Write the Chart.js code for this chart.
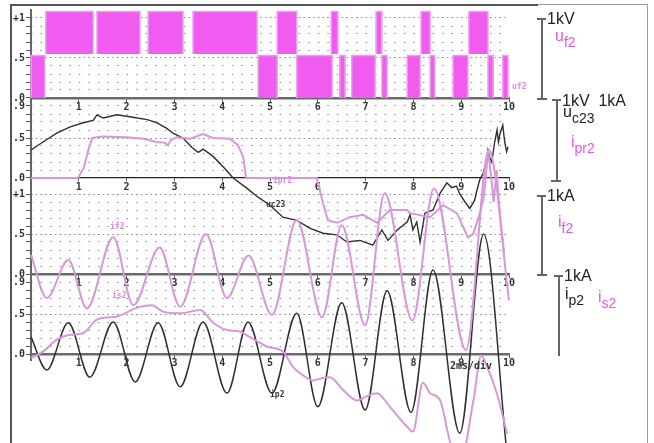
<!DOCTYPE html>
<html>
<head>
<meta charset="utf-8">
<script src="https://cdn.jsdelivr.net/npm/chart.js@4.4.1/dist/chart.umd.min.js"></script>
<style>
  body { margin:0; background:#fff; }
  #wrap { position:relative; width:654px; height:443px; overflow:hidden; background:#fff; }
  canvas { position:absolute; left:0; top:0; }
  .ln { position:absolute; background:#666; }
  .t { position:absolute; font-family:"Liberation Sans", Arial, sans-serif; font-size:16px; line-height:16px; color:#222; white-space:nowrap; }
  .t sub { font-size:14px; vertical-align:-6px; line-height:0; }
  .m { color:#e257e2; }
  .s { position:absolute; font-family:"DejaVu Sans Mono", monospace; font-weight:bold; font-size:8px; line-height:8px; white-space:nowrap; }
</style>
</head>
<body>
<div id="wrap">
  <canvas id="scope" width="654" height="443"></canvas>

  <!-- frame -->
  <div class="ln" style="left:10px;top:4px;width:2px;height:440px;background:#555"></div>
  <div class="ln" style="left:10px;top:4px;width:528px;height:2px;background:#555"></div>
  <div class="ln" style="left:538px;top:4px;width:110px;height:1px;background:#999"></div>
  <div class="ln" style="left:647px;top:4px;width:1px;height:440px;background:#999"></div>

  <!-- scale brackets on the right -->
  <div class="ln" style="left:541px;top:18px;width:1.5px;height:81px"></div>
  <div class="ln" style="left:537px;top:18px;width:9px;height:1.5px"></div>
  <div class="ln" style="left:537px;top:98px;width:10px;height:1.5px"></div>

  <div class="ln" style="left:556px;top:99px;width:1.5px;height:81px"></div>
  <div class="ln" style="left:552px;top:99px;width:9px;height:1.5px"></div>
  <div class="ln" style="left:551px;top:180px;width:10px;height:1.5px"></div>

  <div class="ln" style="left:541px;top:195px;width:1.5px;height:80px"></div>
  <div class="ln" style="left:537px;top:195px;width:9px;height:1.5px"></div>
  <div class="ln" style="left:537px;top:274px;width:10px;height:1.5px"></div>

  <div class="ln" style="left:558px;top:275px;width:1.5px;height:81px"></div>
  <div class="ln" style="left:554px;top:275px;width:9px;height:1.5px"></div>

  <div class="t" style="left:547px;top:11px">1kV</div>
  <div class="t m" style="left:555px;top:28px">u<sub>f2</sub></div>
  <div class="t" style="left:562px;top:93px">1kV&nbsp; 1kA</div>
  <div class="t" style="left:563px;top:104px">u<sub>c23</sub></div>
  <div class="t m" style="left:571px;top:134px">i<sub>pr2</sub></div>
  <div class="t" style="left:547px;top:188px">1kA</div>
  <div class="t m" style="left:558px;top:214px">i<sub>f2</sub></div>
  <div class="t" style="left:564px;top:268px">1kA</div>
  <div class="t" style="left:565px;top:286px">i<sub>p2</sub></div>
  <div class="t m" style="left:598px;top:289px">i<sub>s2</sub></div>

  <!-- trace labels inside the screen -->
  <div class="s" style="left:512px;top:83px;color:#d98ad9">uf2</div>
  <div class="s" style="left:273px;top:177px;color:#d98ad9">ipr2</div>
  <div class="s" style="left:266px;top:201px;color:#333">uc23</div>
  <div class="s" style="left:110px;top:223px;color:#d98ad9">if2</div>
  <div class="s" style="left:112px;top:292px;color:#d98ad9">is2</div>
  <div class="s" style="left:270px;top:391px;color:#333">ip2</div>
  <div class="s" style="left:450px;top:362px;color:#333;font-size:10px">2ms/div</div>
</div>

<script>
// time in divisions (2 ms/div), values in screen units of each channel (1 unit = 1 kV or 1 kA)

// u_f2 : switching blocks
const ufLoStart = [0, 4.75, 5.56, 6.46, 6.71, 7.34, 7.87, 8.35, 8.83, 9.56, 9.87];
const ufLoEnd   = [0.29, 5.15, 6.30, 6.57, 7.20, 7.45, 8.14, 8.45, 9.14, 9.67, 9.98];
const ufLoLevel = [0, 0.53];
const ufHiStart = [0.31, 1.38, 2.45, 3.39, 5.15, 6.28, 7.22, 8.16, 9.16];
const ufHiEnd   = [1.30, 2.28, 3.18, 4.73, 5.56, 6.42, 7.34, 8.35, 9.56];
const ufHiLevel = [0.55, 1.08];

// u_c23
const ucT = [0, 0.25, 0.54, 0.82, 1.09, 1.3, 1.38, 1.51, 1.8, 2.13, 2.43, 2.64, 2.84, 2.97, 3.18, 3.37, 3.5, 3.6, 3.81, 4.02, 4.23, 4.52, 4.75, 5.0, 5.27, 5.56, 5.84, 6.11, 6.4, 6.61, 6.88, 7.15, 7.34, 7.47, 7.66, 7.87, 7.93, 7.99, 8.07, 8.14, 8.24, 8.41, 8.56, 8.7, 8.8, 8.9, 8.97, 9.08, 9.18, 9.28, 9.33, 9.39, 9.46, 9.52, 9.56, 9.6, 9.64, 9.7, 9.75, 9.78, 9.81, 9.87, 9.91, 9.95, 9.98];
const ucV = [0.35, 0.45, 0.56, 0.64, 0.69, 0.72, 0.79, 0.75, 0.79, 0.76, 0.73, 0.69, 0.62, 0.56, 0.50, 0.38, 0.32, 0.36, 0.27, 0.14, 0.0, -0.13, -0.24, -0.34, -0.49, -0.53, -0.63, -0.69, -0.71, -0.80, -0.78, -0.84, -0.65, -0.78, -0.65, -0.55, -0.46, -0.65, -0.55, -0.80, -0.44, -0.40, -0.19, -0.06, -0.12, -0.10, -0.20, -0.30, -0.38, -0.28, -0.15, -0.02, 0.06, 0.20, 0.35, 0.25, 0.20, 0.45, 0.60, 0.45, 0.55, 0.66, 0.45, 0.33, 0.39];

// i_pr2
const iprT = [0, 0.98, 1.1, 1.2, 1.28, 1.5, 2.0, 2.35, 2.63, 2.8, 2.87, 2.92, 3.05, 3.33, 3.6, 3.81, 4.16, 4.33, 4.44, 4.5, 5.98, 6.09, 6.21, 6.4, 6.67, 6.95, 7.24, 7.51, 7.87, 7.93, 8.35, 8.62, 8.91, 9.14, 9.25, 9.39, 9.47, 9.52, 9.56, 9.62, 9.68, 9.74, 9.8, 9.9];
const iprV = [0, 0, 0.12, 0.35, 0.50, 0.52, 0.51, 0.49, 0.45, 0.44, 0.41, 0.47, 0.51, 0.49, 0.55, 0.50, 0.49, 0.41, 0.26, 0, 0, -0.27, -0.53, -0.56, -0.49, -0.46, -0.56, -0.40, -0.40, -0.44, -0.49, -0.34, -0.44, -0.74, -0.70, -0.44, -0.25, 0.05, 0.35, 0.05, -0.30, 0.10, -0.40, -0.95];

// i_f2 (turning points)
const ifT = [0, 0.33, 0.78, 1.17, 1.72, 2.14, 2.69, 3.12, 3.66, 4.1, 4.55, 5.04, 5.56, 6.09, 6.5, 6.99, 7.4, 7.98, 8.43, 9.1, 9.58, 10];
const ifV = [0.24, -0.30, 0.175, -0.43, 0.46, -0.39, 0.33, -0.41, 0.50, -0.30, 0.23, -0.51, 0.675, -0.54, 0.61, -0.64, 1.01, -0.58, 1.07, -0.95, 1.55, -0.33];

// i_s2
const isT = [0, 0.25, 0.54, 0.82, 1.09, 1.38, 1.8, 2.22, 2.53, 2.76, 3.12, 3.54, 3.81, 4.1, 4.37, 4.58, 4.79, 4.94, 5.27, 5.48, 5.63, 5.9, 6.1, 6.25, 6.53, 6.82, 7.05, 7.24, 7.51, 7.87, 7.99, 8.2, 8.35, 8.56, 8.77, 9.0, 9.25, 9.42, 9.5, 9.75, 9.96];
const isV = [-0.05, 0.03, 0.18, 0.24, 0.26, 0.43, 0.47, 0.58, 0.61, 0.53, 0.51, 0.55, 0.39, 0.30, 0.28, 0.21, 0.14, 0.09, 0.03, -0.16, -0.24, -0.33, -0.30, -0.29, -0.45, -0.58, -0.52, -0.49, -0.66, -0.91, -0.97, -0.36, -0.49, -0.58, -1.10, -1.30, -0.60, -0.02, -0.10, -0.50, -1.00];

// i_p2 (turning points)
const ipT = [0, 0.33, 0.78, 1.23, 1.72, 2.18, 2.66, 3.12, 3.6, 4.1, 4.54, 5.04, 5.56, 6.0, 6.5, 6.99, 7.45, 7.95, 8.41, 8.97, 9.47, 9.95];
const ipV = [0.21, -0.20, 0.39, -0.29, 0.40, -0.35, 0.39, -0.41, 0.40, -0.49, 0.40, -0.49, 0.51, -0.66, 0.64, -0.70, 0.79, -0.73, 1.05, -0.99, 1.50, -1.20];

// the four stacked screens: where each zero sits on the common y scale, and its top value
const panels = [
  {zero: 3.2, top: 1},
  {zero: 2.2, top: 0.9},
  {zero: 1.0, top: 1},
  {zero: 0,   top: 0.9}
];

const r2 = v => Math.round(v * 100) / 100;
const gridLevels = [];
const denseLevels = [];
panels.forEach(p => {
  for (let k = 0; k <= Math.round(p.top * 10); k++) gridLevels.push(r2(p.zero + k / 10));
  denseLevels.push(r2(p.zero + 0.5));
  if (p.top === 1) denseLevels.push(r2(p.zero + 1));
});
gridLevels.sort((a, b) => a - b);
denseLevels.sort((a, b) => a - b);

// trailing space keeps the label clear of the tick marks
function yLabel(v) {
  for (const p of panels) {
    const loc = Math.round((v - p.zero) * 10) / 10;
    if (loc >= 0 && loc <= p.top + 1e-6 && Math.abs(v - p.zero - loc) < 1e-6) {
      if (loc === 0) return '.0 ';
      if (loc === 0.5) return '.5 ';
      if (loc === 1) return '+1 ';
      if (loc === 0.9 && p.top === 0.9) return '.9 ';
      return '';
    }
  }
  return '';
}

function series(ts, vs, off) {
  return ts.map((t, i) => ({x: t, y: vs[i] + off}));
}

function blocks(starts, ends, level, off) {
  const pts = [];
  starts.forEach((s, i) => {
    pts.push({x: s, y: level[0] + off}, {x: s, y: level[1] + off},
             {x: ends[i], y: level[1] + off}, {x: ends[i], y: level[0] + off},
             {x: ends[i], y: null});
  });
  return pts;
}

const magenta = '#f05cf0';
const magentaEdge = '#e7a2e7';
const pink = '#d897d8';
const dark = '#2f2f2f';
const monoFont = {family: 'DejaVu Sans Mono', size: 10, weight: 'bold'};

function xAxis(level, color, width) {
  return {
    type: 'linear', axis: 'x', min: 0, max: 10,
    position: {y: level},
    border: {color: color, width: width},
    grid: {drawOnChartArea: false, tickLength: 3, color: '#555', lineWidth: 1},
    ticks: {stepSize: 1, autoSkip: false, maxRotation: 0, padding: 0,
            font: monoFont, color: '#333',
            callback: v => (v === 0 ? '' : String(v))}
  };
}

const uf = panels[0].zero, uc = panels[1].zero, ifz = panels[2].zero, ipz = panels[3].zero;

new Chart(document.getElementById('scope'), {
  type: 'line',
  data: {
    datasets: [
      {label: 'uf2 low', data: blocks(ufLoStart, ufLoEnd, ufLoLevel, uf),
       borderColor: magentaEdge, backgroundColor: magenta, borderWidth: 1.5,
       fill: {value: ufLoLevel[0] + uf}, spanGaps: false, tension: 0},
      {label: 'uf2 high', data: blocks(ufHiStart, ufHiEnd, ufHiLevel, uf),
       borderColor: magentaEdge, backgroundColor: magenta, borderWidth: 1.5,
       fill: {value: ufHiLevel[0] + uf}, spanGaps: false, tension: 0},
      {label: 'ipr2', data: series(iprT, iprV, uc), borderColor: pink, borderWidth: 2, tension: 0},
      {label: 'if2', data: series(ifT, ifV, ifz), borderColor: pink, borderWidth: 2,
       cubicInterpolationMode: 'monotone'},
      {label: 'is2', data: series(isT, isV, ipz), borderColor: pink, borderWidth: 2,
       cubicInterpolationMode: 'monotone'},
      {label: 'uc23', data: series(ucT, ucV, uc), borderColor: dark, borderWidth: 1.4, tension: 0},
      {label: 'ip2', data: series(ipT, ipV, ipz), borderColor: dark, borderWidth: 1.5,
       cubicInterpolationMode: 'monotone'}
    ]
  },
  options: {
    responsive: false,
    animation: false,
    layout: {padding: {left: 31, right: 145, top: 10, bottom: 83}},
    datasets: {line: {pointRadius: 0, clip: false, fill: false}},
    plugins: {legend: {display: false}, tooltip: {enabled: false}},
    scales: {
      x: xAxis(uf, '#6a6a6a', 2.5),
      x2: xAxis(uc, '#222', 1.2),
      x3: xAxis(ifz, '#6a6a6a', 2.5),
      x4: xAxis(ipz, '#6a6a6a', 2.5),
      y: {
        type: 'linear', axis: 'y', min: -0.075, max: 4.3,
        position: {x: 0},
        afterBuildTicks: s => { s.ticks = gridLevels.map(v => ({value: v})); },
        border: {color: '#666', width: 2, dash: [1.5, 8.06]},
        grid: {color: '#8c8c8c', lineWidth: 1, tickLength: 4, tickColor: '#555'},
        ticks: {autoSkip: false, padding: 1, font: monoFont, color: '#333', callback: yLabel}
      },
      yd: {
        type: 'linear', axis: 'y', min: -0.075, max: 4.3,
        position: {x: 0},
        afterBuildTicks: s => { s.ticks = denseLevels.map(v => ({value: v})); },
        border: {display: false, dash: [1.5, 3.28]},
        grid: {color: '#8c8c8c', lineWidth: 1, drawTicks: false},
        ticks: {display: false}
      }
    }
  }
});
</script>
</body>
</html>
